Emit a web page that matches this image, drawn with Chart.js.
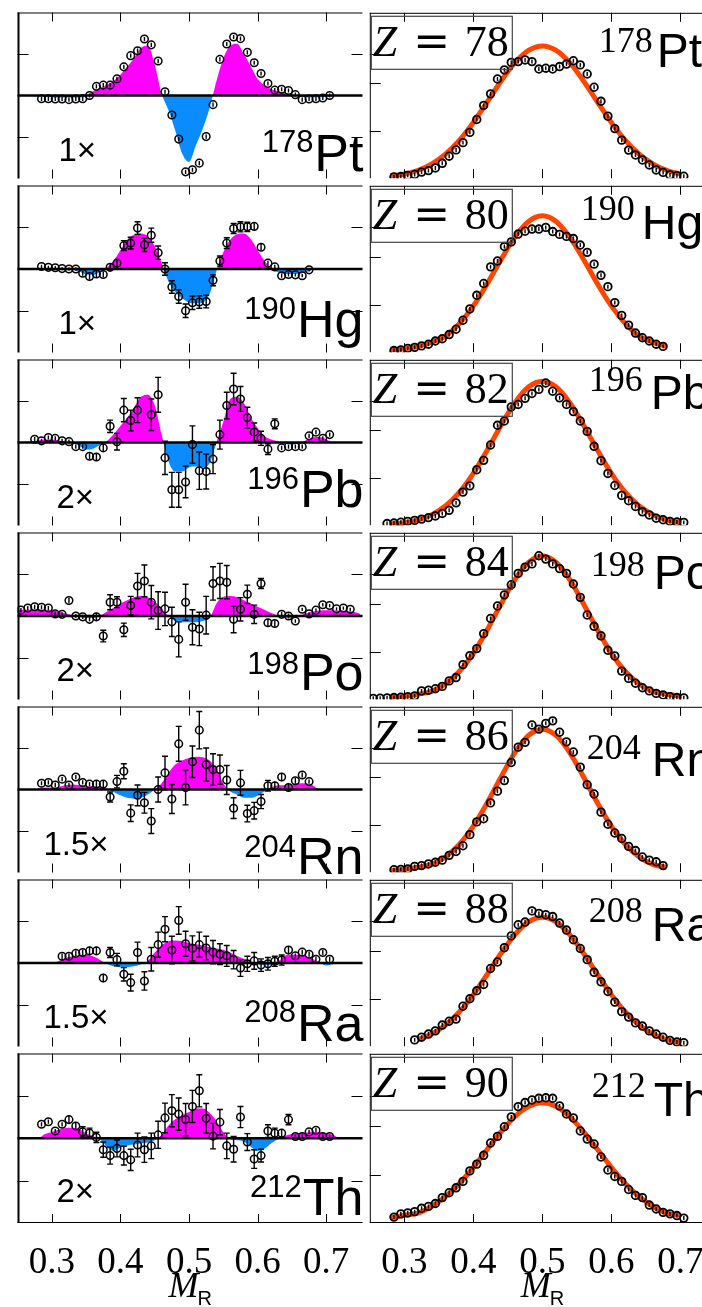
<!DOCTYPE html>
<html>
<head>
<meta charset="utf-8">
<script src="https://cdn.jsdelivr.net/npm/chart.js@4.4.1/dist/chart.umd.min.js"></script>
<style>
  html, body { margin: 0; padding: 0; background: #fff; overflow: hidden; }
  #fig { position: relative; width: 702px; height: 1307px; overflow: hidden; background: #fff; }
  #fig canvas { position: absolute; }
</style>
</head>
<body>
<div id="fig"></div>
<script>
// ---- data ----
const xTicks = [0.3, 0.4, 0.5, 0.6, 0.7];

// mass-ratio bin centres
const MR = [0.255, 0.265, 0.275, 0.285, 0.295, 0.305, 0.315, 0.325, 0.335, 0.345,
  0.355, 0.365, 0.375, 0.385, 0.395, 0.405, 0.415, 0.425, 0.435, 0.445,
  0.455, 0.465, 0.475, 0.485, 0.495, 0.505, 0.515, 0.525, 0.535, 0.545,
  0.555, 0.565, 0.575, 0.585, 0.595, 0.605, 0.615, 0.625, 0.635, 0.645,
  0.655, 0.665, 0.675, 0.685, 0.695, 0.705, 0.715, 0.725, 0.735];

// x grid of the shaded difference curves
const CX = [0.25, 0.26, 0.27, 0.28, 0.29, 0.30, 0.31, 0.32, 0.33, 0.34,
  0.35, 0.36, 0.37, 0.38, 0.39, 0.40, 0.41, 0.42, 0.43, 0.44,
  0.45, 0.46, 0.47, 0.48, 0.49, 0.50, 0.51, 0.52, 0.53, 0.54,
  0.55, 0.56, 0.57, 0.58, 0.59, 0.60, 0.61, 0.62, 0.63, 0.64,
  0.65, 0.66, 0.67, 0.68, 0.69, 0.70, 0.71, 0.72, 0.73, 0.74, 0.75];

// x grid of the fitted curves
const RX = [0.28, 0.30, 0.32, 0.34, 0.36, 0.38, 0.40, 0.42, 0.44, 0.46, 0.48,
  0.50, 0.52, 0.54, 0.56, 0.58, 0.60, 0.62, 0.64, 0.66, 0.68, 0.70];

const nuclei = ['Pt', 'Hg', 'Pb', 'Po', 'Rn', 'Ra', 'Th'];
const massNumbers = ['178', '190', '196', '198', '204', '208', '212'];
const protonNumbers = [78, 80, 82, 84, 86, 88, 90];
const scaleFactors = ['1\u00d7', '1\u00d7', '2\u00d7', '2\u00d7', '1.5\u00d7', '1.5\u00d7', '2\u00d7'];

// left column: data minus fit (scaled)
const diffPt = [-0.08, -0.08, -0.085, -0.085, -0.10, -0.085, -0.08, 0.0, 0.22, 0.25,
  0.25, 0.40, 0.69, 0.96, 1.08, 1.36, 1.22, 0.83, 0.09, -0.47,
  -1.05, -1.84, -1.79, -1.63, -0.99, -0.22, 0.87, 1.24, 1.41, 1.37,
  1.04, 0.79, 0.53, 0.29, 0.13, 0.15, 0.12, 0.02, -0.10, -0.085,
  -0.08, -0.06, 0.0];
const diffHg = [0.06, 0.04, 0.03, 0.01, 0.0, 0.0, -0.10, -0.18, -0.12, -0.13,
  0.04, 0.14, 0.56, 0.62, 0.98, 0.58, 0.81, 0.39, 0.0, -0.43,
  -0.66, -1.0, -0.81, -0.79, -0.78, -0.27, 0.19, 0.62, 0.97, 1.01,
  1.01, 1.02, 0.52, 0.14, 0.05, -0.16, -0.13, -0.14, -0.16, -0.02];
const diffPb = [0.08, 0.04, 0.12, 0.10, 0.04, 0.02, -0.10, -0.10, -0.33, -0.35,
  -0.13, 0.39, 0.02, 0.78, 0.53, 0.78, null, 0.67, 1.15, -0.37,
  -1.14, -1.14, -0.95, -0.05, -0.68, -0.70, -0.40, 0.19, 0.89, 1.29,
  1.05, 0.60, 0.25, 0.10, -0.16, 0.45, -0.13, -0.10, -0.10, -0.10,
  0.16, 0.25, 0.10, 0.19];
const diffPo = [0.14, 0.19, 0.22, 0.21, 0.19, 0.05, 0.04, 0.37, 0.0, -0.02,
  -0.08, -0.02, -0.48, 0.33, 0.33, -0.33, 0.25, 0.72, 0.84, 0.33,
  0.13, 0.17, -0.14, -0.56, 0.33, -0.27, -0.31, 0.02, 0.78, 0.84,
  0.81, -0.08, 0.16, 0.52, 0.04, 0.78, -0.16, -0.18, 0.04, 0.0,
  -0.12, 0.16, 0.05, 0.14, 0.27, 0.25, 0.17, 0.19, 0.16];
const diffRn = [0.15, 0.17, 0.11, 0.25, 0.11, 0.30, 0.17, 0.13, 0.13, 0.13,
  -0.18, 0.19, 0.44, -0.57, -0.14, -0.32, -0.76, 0.0, 0.40, -0.23,
  1.10, 0.05, 0.67, 1.43, 0.60, 0.48, 0.48, 0.23, -0.45, 0.16,
  -0.58, -0.51, -0.29, 0.09, 0.09, 0.30, 0.05, 0.21, 0.35, 0.19];
const diffRa = [0.16, 0.16, 0.23, 0.25, 0.29, 0.29, -0.36, 0.25, 0.08, -0.27,
  -0.47, 0.25, -0.43, 0.09, 0.44, 0.81, 0.31, 1.02, 0.46, 0.35,
  0.44, 0.36, 0.26, 0.21, 0.17, 0.08, -0.12, -0.02, 0.05, -0.05,
  -0.02, 0.04, 0.07, 0.31, 0.17, 0.26, 0.21, 0.09, 0.25, 0.09];
const diffTh = [0.33, 0.39, 0.17, 0.33, 0.44, 0.29, 0.15, 0.12, 0.02, -0.27,
  -0.41, -0.24, -0.41, -0.51, -0.16, -0.27, -0.18, 0.08, 0.48, 0.65,
  0.57, 0.44, 0.75, 1.12, 0.47, 0.05, 0.38, -0.18, -0.26, 0.50,
  -0.09, -0.49, -0.41, 0.17, 0.12, 0.12, 0.44, 0.04, 0.04, 0.15,
  0.19, 0.04, 0.04];

const errPt = 0.05;
const errHg = [0.04, 0.04, 0.04, 0.04, 0.04, 0.04, 0.06, 0.07, 0.07, 0.07,
  0.08, 0.10, 0.12, 0.14, 0.15, 0.16, 0.17, 0.16, 0.15, 0.15,
  0.16, 0.16, 0.16, 0.15, 0.15, 0.13, 0.12, 0.13, 0.12, 0.12,
  0.11, 0.09, 0.08, 0.06, 0.05, 0.05, 0.05, 0.04, 0.04, 0.04];
const errPb = [0.05, 0.05, 0.05, 0.05, 0.05, 0.05, 0.05, 0.05, 0.07, 0.08,
  0.10, 0.15, 0.20, 0.28, 0.25, 0.30, 0, 0.38, 0.42, 0.40,
  0.42, 0.42, 0.38, 0.45, 0.45, 0.42, 0.35, 0.35, 0.32, 0.38,
  0.30, 0.25, 0.22, 0.17, 0.13, 0.12, 0.05, 0.05, 0.05, 0.05,
  0.05, 0.05, 0.05, 0.05];
const errPo = [0.05, 0.05, 0.05, 0.05, 0.05, 0.05, 0.05, 0.06, 0.05, 0.05,
  0.05, 0.10, 0.14, 0.18, 0.13, 0.16, 0.22, 0.30, 0.38, 0.40,
  0.45, 0.40, 0.35, 0.42, 0.43, 0.42, 0.40, 0.45, 0.40, 0.42,
  0.40, 0.32, 0.28, 0.22, 0.22, 0.12, 0.08, 0.08, 0.06, 0.06,
  0.04, 0.04, 0.04, 0.04, 0.04, 0.04, 0.04, 0.04, 0.04];
const errRn = [0.05, 0.05, 0.05, 0.05, 0.05, 0.05, 0.05, 0.05, 0.08, 0.10,
  0.12, 0.15, 0.18, 0.20, 0.25, 0.25, 0.30, 0.30, 0.40, 0.35,
  0.42, 0.42, 0.38, 0.45, 0.40, 0.38, 0.35, 0.35, 0.25, 0.30,
  0.20, 0.20, 0.17, 0.13, 0.10, 0.10, 0.08, 0.07, 0.06, 0.05];
const errRa = [0.07, 0.07, 0.07, 0.07, 0.10, 0.10, 0.10, 0.12, 0.15, 0.16,
  0.20, 0.25, 0.22, 0.28, 0.30, 0.30, 0.33, 0.33, 0.30, 0.30,
  0.30, 0.28, 0.28, 0.25, 0.25, 0.22, 0.20, 0.18, 0.20, 0.15,
  0.15, 0.12, 0.12, 0.10, 0.06, 0.06, 0.06, 0.06, 0.06, 0.06];
const errTh = [0.05, 0.05, 0.05, 0.05, 0.10, 0.08, 0.12, 0.12, 0.12, 0.18,
  0.20, 0.20, 0.22, 0.25, 0.28, 0.30, 0.30, 0.32, 0.35, 0.38,
  0.38, 0.38, 0.38, 0.38, 0.35, 0.30, 0.30, 0.30, 0.30, 0.25,
  0.20, 0.22, 0.15, 0.15, 0.12, 0.10, 0.12, 0.05, 0.05, 0.05,
  0.05, 0.05, 0.05];

// left column: shaded difference curves (on CX)
const shadePt = [0, 0, -0.01, -0.02, -0.03, -0.04, -0.05, -0.05, -0.05, -0.05,
  -0.02, 0.10, 0.18, 0.25, 0.35, 0.50, 0.70, 0.90, 1.15, 1.20,
  0.75, 0.05, -0.35, -0.85, -1.40, -1.60, -1.20, -0.80, -0.30, 0.35,
  0.90, 1.20, 1.25, 1.00, 0.70, 0.40, 0.25, 0.15, 0.10, 0.06,
  0.02, -0.02, -0.04, -0.04, -0.04, -0.03, -0.02, 0, 0, 0, 0];
const shadeHg = [0, 0, 0, 0, 0, 0, -0.01, -0.01, -0.02, -0.06,
  -0.13, -0.14, -0.07, 0.03, 0.20, 0.45, 0.70, 0.82, 0.85, 0.78,
  0.55, 0.15, -0.30, -0.55, -0.70, -0.80, -0.82, -0.80, -0.60, -0.05,
  0.40, 0.70, 0.83, 0.85, 0.72, 0.45, 0.20, 0.02, -0.08, -0.12,
  -0.12, -0.12, -0.08, -0.02, 0, 0, 0, 0, 0, 0, 0];
const shadePb = [0, 0.01, 0.03, 0.05, 0.07, 0.07, 0.05, 0.02, -0.02, -0.08,
  -0.17, -0.15, -0.06, 0.03, 0.20, 0.40, 0.60, 0.85, 1.10, 1.15,
  0.90, 0.20, -0.45, -0.70, -0.70, -0.60, -0.58, -0.60, -0.50, 0.0,
  0.50, 1.05, 1.10, 0.95, 0.60, 0.35, 0.15, 0.07, 0.02, -0.03,
  -0.05, -0.02, 0.05, 0.12, 0.13, 0.08, 0, 0, 0, 0, 0];
const shadePo = [0.15, 0.15, 0.15, 0.16, 0.15, 0.13, 0.10, 0.06, 0.02, -0.02,
  -0.05, -0.05, 0.0, 0.10, 0.20, 0.30, 0.38, 0.45, 0.48, 0.45,
  0.35, 0.18, 0.0, -0.12, -0.15, -0.15, -0.15, -0.12, -0.05, 0.30,
  0.46, 0.48, 0.45, 0.38, 0.30, 0.22, 0.15, 0.07, 0.0, -0.04,
  -0.04, 0.0, 0.06, 0.10, 0.13, 0.14, 0.14, 0.13, 0.12, 0.10, 0.05];
const shadeRn = [0, 0, 0, 0.02, 0.05, 0.05, 0.06, 0.10, 0.12, 0.10,
  0.08, 0.08, 0.06, 0.02, -0.06, -0.14, -0.20, -0.22, -0.20, -0.12,
  0.0, 0.15, 0.40, 0.60, 0.70, 0.76, 0.79, 0.78, 0.70, 0.50,
  0.15, -0.05, -0.12, -0.20, -0.20, -0.15, -0.05, 0.05, 0.10, 0.10,
  0.12, 0.15, 0.15, 0.10, 0.0, 0, 0, 0, 0, 0, 0];
const shadeRa = [0, 0, 0, 0, 0, 0.0, 0.05, 0.12, 0.16, 0.19,
  0.20, 0.16, 0.08, -0.02, -0.08, -0.10, -0.10, -0.08, -0.03, 0.05,
  0.25, 0.42, 0.52, 0.54, 0.52, 0.48, 0.45, 0.42, 0.38, 0.35,
  0.32, 0.25, 0.17, 0.10, 0.03, -0.03, -0.05, -0.04, 0.03, 0.18,
  0.20, 0.20, 0.17, 0.10, 0.02, -0.06, -0.03, 0, 0, 0, 0];
const shadeTh = [0, 0, 0, 0, 0.10, 0.15, 0.20, 0.24, 0.25, 0.22,
  0.12, 0.05, -0.02, -0.20, -0.30, -0.22, -0.17, -0.15, -0.12, -0.10,
  -0.05, 0.08, 0.30, 0.45, 0.55, 0.62, 0.70, 0.70, 0.60, 0.40,
  0.15, -0.02, -0.05, -0.08, -0.20, -0.30, -0.25, -0.12, -0.02, 0.06,
  0.10, 0.12, 0.13, 0.15, 0.15, 0.12, 0.08, 0, 0, 0, 0];

// right column: mass distributions (normalised to panel height)
const distPt = [0.008, 0.010, 0.017, 0.023, 0.037, 0.046, 0.062, 0.090, 0.133, 0.171,
  0.215, 0.277, 0.355, 0.440, 0.510, 0.600, 0.655, 0.700, 0.705, 0.715,
  0.705, 0.660, 0.665, 0.660, 0.675, 0.690, 0.710, 0.685, 0.630, 0.550,
  0.465, 0.375, 0.300, 0.230, 0.170, 0.140, 0.110, 0.080, 0.050, 0.035,
  0.020, 0.015, 0.012];
const distHg = [0.010, 0.014, 0.023, 0.029, 0.038, 0.048, 0.067, 0.081, 0.106, 0.138,
  0.192, 0.260, 0.342, 0.413, 0.513, 0.548, 0.635, 0.663, 0.710, 0.727,
  0.740, 0.740, 0.750, 0.725, 0.708, 0.696, 0.683, 0.644, 0.600, 0.529,
  0.462, 0.394, 0.298, 0.221, 0.163, 0.115, 0.087, 0.067, 0.048, 0.035];
const distPb = [0.010, 0.013, 0.018, 0.023, 0.029, 0.037, 0.046, 0.056, 0.071, 0.090,
  0.135, 0.200, 0.238, 0.335, 0.392, 0.485, 0.604, 0.630, 0.715, 0.730,
  0.767, 0.796, 0.821, 0.860, 0.810, 0.770, 0.730, 0.687, 0.630, 0.567,
  0.477, 0.390, 0.313, 0.240, 0.180, 0.148, 0.113, 0.081, 0.062, 0.042,
  0.033, 0.023, 0.019, 0.017];
const distPo = [0.005, 0.006, 0.008, 0.010, 0.012, 0.015, 0.020, 0.050, 0.054, 0.063,
  0.077, 0.110, 0.130, 0.208, 0.262, 0.304, 0.394, 0.485, 0.560, 0.627,
  0.688, 0.756, 0.794, 0.813, 0.862, 0.842, 0.813, 0.785, 0.756, 0.692,
  0.612, 0.506, 0.438, 0.381, 0.294, 0.260, 0.169, 0.125, 0.096, 0.069,
  0.050, 0.035, 0.025, 0.015, 0.010, 0.008];
const distRn = [0.015, 0.017, 0.019, 0.035, 0.040, 0.050, 0.060, 0.073, 0.102, 0.125,
  0.160, 0.227, 0.304, 0.323, 0.419, 0.490, 0.554, 0.663, 0.756, 0.785,
  0.890, 0.865, 0.900, 0.915, 0.846, 0.788, 0.727, 0.635, 0.529, 0.473,
  0.363, 0.290, 0.237, 0.204, 0.156, 0.131, 0.092, 0.073, 0.063, 0.040];
const distRa = [0.038, 0.054, 0.073, 0.092, 0.127, 0.150, 0.163, 0.240, 0.285, 0.333,
  0.371, 0.467, 0.506, 0.592, 0.663, 0.730, 0.746, 0.813, 0.798, 0.790,
  0.779, 0.740, 0.698, 0.640, 0.587, 0.520, 0.444, 0.387, 0.329, 0.265,
  0.208, 0.175, 0.140, 0.121, 0.092, 0.073, 0.054, 0.035, 0.025, 0.021];
const distTh = [0.035, 0.054, 0.060, 0.067, 0.087, 0.098, 0.115, 0.150, 0.179, 0.208,
  0.246, 0.308, 0.348, 0.400, 0.473, 0.512, 0.569, 0.627, 0.688, 0.712,
  0.727, 0.737, 0.740, 0.737, 0.692, 0.644, 0.621, 0.544, 0.496, 0.467,
  0.390, 0.313, 0.275, 0.246, 0.198, 0.163, 0.150, 0.106, 0.083, 0.063,
  0.054, 0.044, 0.029];
const distErr = 0.012;

// right column: fitted curves (on RX)
const fitPt = [0.012, 0.025, 0.048, 0.087, 0.147, 0.230, 0.337, 0.460, 0.586, 0.697, 0.773,
  0.800, 0.773, 0.697, 0.586, 0.460, 0.337, 0.230, 0.147, 0.087, 0.048, 0.025];
const fitHg = [0.012, 0.020, 0.035, 0.060, 0.098, 0.173, 0.278, 0.410, 0.556, 0.690, 0.786,
  0.820, 0.786, 0.690, 0.556, 0.410, 0.278, 0.173, 0.098, 0.060, 0.035, null];
const fitPb = [0.008, 0.015, 0.032, 0.064, 0.118, 0.200, 0.314, 0.453, 0.603, 0.739, 0.835,
  0.870, 0.835, 0.739, 0.603, 0.453, 0.314, 0.200, 0.118, 0.064, 0.032, 0.015];
const fitPo = [0.010, 0.018, 0.030, 0.047, 0.093, 0.168, 0.276, 0.416, 0.571, 0.717, 0.822,
  0.860, 0.822, 0.717, 0.571, 0.416, 0.276, 0.168, 0.093, 0.047, 0.030, 0.018];
const fitRn = [0.010, 0.018, 0.030, 0.047, 0.094, 0.169, 0.278, 0.418, 0.574, 0.721, 0.827,
  0.865, 0.827, 0.721, 0.574, 0.418, 0.278, 0.169, 0.094, 0.047, 0.030, null];
const fitRa = [null, null, 0.040, 0.074, 0.128, 0.207, 0.310, 0.431, 0.557, 0.669, 0.747,
  0.775, 0.747, 0.669, 0.557, 0.431, 0.310, 0.207, 0.128, 0.074, 0.040, 0.020];
const fitTh = [0.030, 0.045, 0.059, 0.099, 0.157, 0.234, 0.329, 0.434, 0.538, 0.628, 0.688,
  0.710, 0.688, 0.628, 0.538, 0.434, 0.329, 0.234, 0.157, 0.099, 0.059, 0.045];

const diffX = [MR.slice(3, 46), MR.slice(3, 43), MR.slice(2, 46), MR.slice(0, 49), MR.slice(3, 43), MR.slice(6, 46), MR.slice(3, 46)];
const diffY = [diffPt, diffHg, diffPb, diffPo, diffRn, diffRa, diffTh];
const diffErr = [errPt, errHg, errPb, errPo, errRn, errRa, errTh];
const shades = [shadePt, shadeHg, shadePb, shadePo, shadeRn, shadeRa, shadeTh];
const distX = [MR.slice(3, 46), MR.slice(3, 43), MR.slice(2, 46), MR.slice(0, 46), MR.slice(3, 43), MR.slice(6, 46), MR.slice(3, 46)];
const distY = [distPt, distHg, distPb, distPo, distRn, distRa, distTh];
const fits = [fitPt, fitHg, fitPb, fitPo, fitRn, fitRa, fitTh];

// ---- layout ----
const ROW_TOP = [9, 182, 356, 529, 703, 876, 1050];
const ROW_H = [173, 174, 173, 174, 173, 174, 173];
const AXIS_H = 84;
const leftNumBase = [139, 133, 129, 141, 150, 142, 143];
const leftElBase = [158, 151, 147, 157, 167, 161, 161];
const rightNumX = [595, 577, 585, 587, 583, 585, 588];
const rightElX = [653, 638, 647, 650, 648, 648, 650];
const rightNumBase = [39, 34, 31, 43, 52, 42, 43];
const rightElBase = [54, 53, 49, 56, 69, 61, 62];
const multX = [55, 55, 53, 53, 40, 40, 53];

const MAGENTA = '#ff00ff';
const BLUE = '#0a8cff';
const ORANGE = '#ff4500';
const SANS = '"Liberation Sans", Arial, sans-serif';
const SERIF = '"Liberation Serif", "Times New Roman", serif';

function pts(xs, ys) {
  return xs.map((x, i) => ({ x: x, y: ys[i] }));
}

function txt(ctx, s, x, y, font, align) {
  ctx.font = font;
  ctx.textAlign = align || 'left';
  ctx.textBaseline = 'alphabetic';
  ctx.fillStyle = '#000';
  ctx.fillText(s, x, y);
}

const framePlugin = {
  id: 'frame',
  beforeDatasetDraw(chart, args, o) {
    const ds = chart.data.datasets[args.index];
    if (ds.role !== 'points') return;
    const ys = chart.scales.y, ca = chart.chartArea, ctx = chart.ctx;
    const meta = chart.getDatasetMeta(args.index);
    ctx.save();
    ctx.beginPath();
    ctx.rect(ca.left, ca.top, ca.right - ca.left, ca.bottom - ca.top);
    ctx.clip();
    ctx.strokeStyle = '#000';
    ctx.lineWidth = 1.4;
    ds.data.forEach((p, i) => {
      if (p.y === null) return;
      const e = Array.isArray(ds.errors) ? ds.errors[i] : ds.errors;
      const x = meta.data[i].x;
      const y1 = ys.getPixelForValue(p.y + e), y2 = ys.getPixelForValue(p.y - e);
      ctx.beginPath();
      ctx.moveTo(x, y1); ctx.lineTo(x, y2);
      if (ds.cap && y2 - y1 > 9) {
        ctx.moveTo(x - ds.cap, y1); ctx.lineTo(x + ds.cap, y1);
        ctx.moveTo(x - ds.cap, y2); ctx.lineTo(x + ds.cap, y2);
      }
      ctx.stroke();
    });
    ctx.restore();
  },
  afterDatasetDraw(chart, args, o) {
    const ds = chart.data.datasets[args.index];
    if (ds.role !== 'shade') return;
    const ca = chart.chartArea, ctx = chart.ctx;
    const y0 = chart.scales.y.getPixelForValue(0);
    ctx.save();
    ctx.strokeStyle = '#000';
    ctx.lineWidth = 2.4;
    ctx.beginPath();
    ctx.moveTo(ca.left, y0); ctx.lineTo(ca.right, y0);
    ctx.stroke();
    ctx.restore();
  },
  afterDraw(chart, args, o) {
    const ctx = chart.ctx, ca = chart.chartArea;
    const xs = chart.scales.x, ys = chart.scales.y;
    const L = ca.left, R = ca.right, T = ca.top, B = ca.bottom;
    const r = o.row;
    ctx.save();
    ctx.strokeStyle = '#000';
    // frame
    ctx.lineWidth = 1;
    ctx.beginPath();
    ctx.moveTo(L, T + 0.5); ctx.lineTo(R, T + 0.5);
    if (o.col === 'R') { ctx.moveTo(L + 0.5, T); ctx.lineTo(L + 0.5, B); }
    if (r === 6) { ctx.moveTo(L, B - 0.5); ctx.lineTo(R, B - 0.5); }
    ctx.stroke();
    if (o.col === 'L') {
      ctx.lineWidth = 2;
      ctx.beginPath();
      ctx.moveTo(L + 1, T); ctx.lineTo(L + 1, B);
      ctx.stroke();
    }
    // inward ticks
    ctx.lineWidth = 1;
    ctx.beginPath();
    xTicks.forEach(v => {
      const px = Math.round(xs.getPixelForValue(v)) + 0.5;
      ctx.moveTo(px, T); ctx.lineTo(px, T + 9);
      ctx.moveTo(px, B); ctx.lineTo(px, B - 9);
    });
    o.yTicks.forEach(v => {
      const py = Math.round(ys.getPixelForValue(v)) + 0.5;
      ctx.moveTo(L, py); ctx.lineTo(L + 11, py);
      if (o.col === 'L') { ctx.moveTo(R, py); ctx.lineTo(R - 11, py); }
    });
    ctx.stroke();

    if (o.col === 'L') {
      txt(ctx, scaleFactors[r], L + multX[r] - 14, T + 148, '33px ' + SANS);
      ctx.font = '52px ' + SANS;
      const ew = ctx.measureText(nuclei[r]).width;
      txt(ctx, nuclei[r], L + 346, T + leftElBase[r], '52px ' + SANS, 'right');
      txt(ctx, massNumbers[r], L + 346 - ew - 1, T + leftNumBase[r], '31px ' + SANS, 'right');
    } else {
      // Z box
      ctx.strokeStyle = '#444';
      ctx.lineWidth = 1.2;
      ctx.strokeRect(L + 1.5, T + 3.5, 141, 53);
      txt(ctx, 'Z', L + 3, T + 43, 'italic 44px ' + SERIF);
      txt(ctx, '=', L + 62, T + 43, '44px "DejaVu Serif", serif', 'center');
      txt(ctx, String(protonNumbers[r]), L + 139, T + 43, '44px ' + SERIF, 'right');
      txt(ctx, massNumbers[r], L + rightNumX[r] - 366, T + rightNumBase[r], '36px ' + SERIF);
      txt(ctx, nuclei[r], L + rightElX[r] - 366, T + rightElBase[r], '48px ' + SANS);
    }
    if (r === 6) {
      txt(ctx, 'M', L + 151, B + 74, 'italic 36px ' + SERIF);
      txt(ctx, 'R', L + 180, B + 82, '20px ' + SANS);
    }
    ctx.restore();
  }
};

function xScale(min, max, bottom) {
  return {
    type: 'linear', min: min, max: max, display: bottom,
    grid: { display: false }, border: { display: false },
    ticks: {
      font: { family: 'Liberation Serif', size: 37 }, color: '#000',
      padding: 10, maxRotation: 0, autoSkip: false,
      callback: v => v.toFixed(1)
    },
    afterBuildTicks: s => { s.ticks = xTicks.map(v => ({ value: v })); },
    afterFit: s => { if (bottom) s.height = AXIS_H; }
  };
}

function baseOptions(r, col, xmin, xmax, ymin, ymax, yTicks) {
  const bottom = r === 6;
  return {
    responsive: false, animation: false, devicePixelRatio: 1, events: [],
    layout: { padding: { left: 2, right: 2, top: 2, bottom: bottom ? 0 : 2 } },
    plugins: {
      legend: { display: false }, tooltip: { enabled: false },
      frame: { row: r, col: col, yTicks: yTicks }
    },
    scales: {
      x: xScale(xmin, xmax, bottom),
      y: { type: 'linear', min: ymin, max: ymax, display: false }
    }
  };
}

const fig = document.getElementById('fig');
function makeCtx(left, top, w, h) {
  const c = document.createElement('canvas');
  c.width = w; c.height = h;
  c.style.left = left + 'px'; c.style.top = top + 'px';
  c.style.width = w + 'px'; c.style.height = h + 'px';
  fig.appendChild(c);
  return c.getContext('2d');
}

for (let r = 0; r < 7; r++) {
  const h = r === 6 ? ROW_H[r] + 2 + AXIS_H : ROW_H[r] + 4;
  const top = ROW_TOP[r] - 2;

  // left: difference panel
  new Chart(makeCtx(12, top, 356, h), {
    type: 'line',
    data: {
      datasets: [
        {
          role: 'points', data: pts(diffX[r], diffY[r]), errors: diffErr[r], cap: 3,
          showLine: false, pointRadius: 3.8, pointBorderWidth: 1.5,
          pointBorderColor: '#000', pointBackgroundColor: 'rgba(0,0,0,0)'
        },
        {
          role: 'shade', data: pts(CX, shades[r]),
          borderColor: 'rgba(0,0,0,0)', borderWidth: 0, pointRadius: 0,
          cubicInterpolationMode: 'monotone',
          fill: { target: 'origin', above: MAGENTA, below: BLUE }
        }
      ]
    },
    options: baseOptions(r, 'L', 0.25, 0.25 + 352 / 700, -2, 2, [-1, 1]),
    plugins: [framePlugin]
  });

  // right: distribution panel
  new Chart(makeCtx(364, top, 364, h), {
    type: 'line',
    data: {
      datasets: [
        {
          role: 'points', data: pts(distX[r], distY[r]), errors: distErr, cap: 0,
          showLine: false, pointRadius: 3.8, pointBorderWidth: 1.8,
          pointBorderColor: '#000', pointBackgroundColor: 'rgba(0,0,0,0)'
        },
        {
          role: 'fit', data: pts(RX, fits[r]),
          borderColor: ORANGE, borderWidth: 5, pointRadius: 0,
          cubicInterpolationMode: 'monotone', fill: false
        }
      ]
    },
    options: baseOptions(r, 'R', 0.25, 0.25 + 360 / 705, 0, 1, [0.284, 0.575, 0.75]),
    plugins: [framePlugin]
  });
}
</script>
</body>
</html>
